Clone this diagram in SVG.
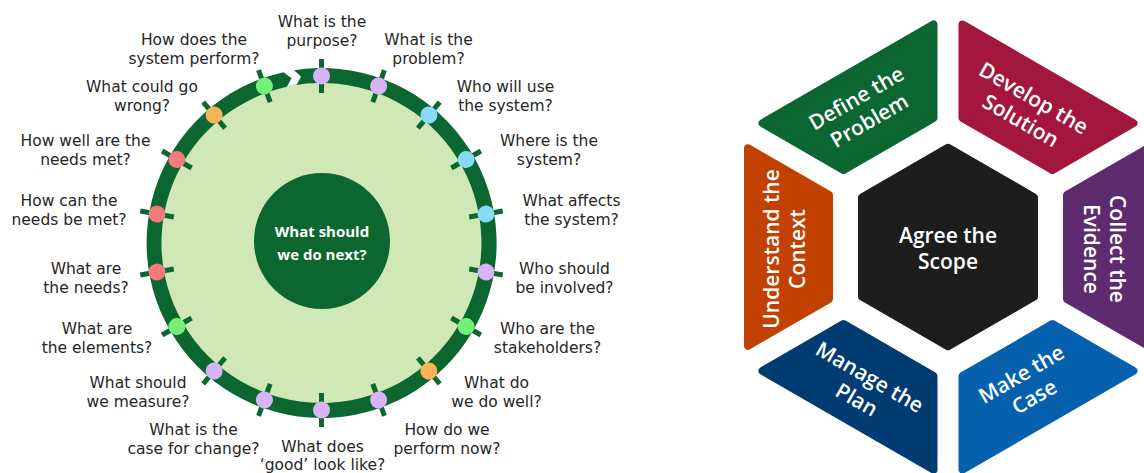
<svg xmlns="http://www.w3.org/2000/svg" xmlns:xlink="http://www.w3.org/1999/xlink" width="1144" height="473" viewBox="0 0 1144 473">
  <style>
    .q { font-family: "DejaVu Sans", Verdana, sans-serif; font-size: 15.5px; fill: #262626; text-anchor: middle; }
    .hub { font-family: "Open Sans", "Noto Sans", sans-serif; font-size: 15px; font-weight: 700; fill: #ffffff; text-anchor: middle; }
    .seg-t { font-family: "Open Sans", "Noto Sans", sans-serif; font-size: 21px; font-weight: 600; fill: #ffffff; text-anchor: middle; }
    .tick { stroke: #0b672f; stroke-width: 5; }
    .lav { fill: #d6b4f6; }
    .blu { fill: #86dbfb; }
    .grn { fill: #74f079; }
    .org { fill: #fbb455; }
    .red { fill: #f47b7b; }
    .seg { stroke-width: 8; stroke-linejoin: round; }
  </style>
  <defs>
    <!-- one ring segment of the hexagon, pointing left; rotated for the others -->
    <polygon id="seg" points="-200,-98.73 -119,-51.96 -119,51.96 -200,98.73"/>
    <!-- radial tick across the wheel ring, drawn at the top and rotated per question -->
    <line id="tk" class="tick" x1="0" y1="-150" x2="0" y2="-184"/>
  </defs>

  <rect width="1144" height="473" fill="#ffffff"/>

  <!-- ===== question wheel ===== -->
  <circle id="wheel-field" cx="321.5" cy="243" r="161" fill="#cfe8b5"/>

  <g id="connectors">
    <!-- clockwise ring with arrow tip meeting a notched tail at the top -->
    <path id="cycle-ring" fill="#0b672f"
      d="M294.12,70.15 A175,175 0 1 1 283.62,72.15 L291.55,78.20 L286.87,86.79 A160,160 0 1 0 296.47,84.97 L301.09,76.75 Z"/>
  </g>

  <g id="hub">
    <circle cx="322" cy="241" r="68" fill="#0b672f"/>
    <text class="hub" x="322" y="237">What should</text>
    <text class="hub" x="322" y="260">we do next?</text>
  </g>

  <g id="q-purpose">
    <g transform="translate(321.5,243) rotate(0)"><use xlink:href="#tk"/><circle class="lav" cy="-167" r="8.5"/></g>
    <text class="q" y="27"><tspan x="322">What is the</tspan><tspan x="322" dy="18.5">purpose?</tspan></text>
  </g>
  <g id="q-problem">
    <g transform="translate(321.5,243) rotate(20)"><use xlink:href="#tk"/><circle class="lav" cy="-167" r="8.5"/></g>
    <text class="q" y="45"><tspan x="428.5">What is the</tspan><tspan x="428.5" dy="18.5">problem?</tspan></text>
  </g>
  <g id="q-users">
    <g transform="translate(321.5,243) rotate(40)"><use xlink:href="#tk"/><circle class="blu" cy="-167" r="8.5"/></g>
    <text class="q" y="92"><tspan x="505.5">Who will use</tspan><tspan x="505.5" dy="18.5">the system?</tspan></text>
  </g>
  <g id="q-where">
    <g transform="translate(321.5,243) rotate(60)"><use xlink:href="#tk"/><circle class="blu" cy="-167" r="8.5"/></g>
    <text class="q" y="146"><tspan x="549">Where is the</tspan><tspan x="549" dy="18.5">system?</tspan></text>
  </g>
  <g id="q-affects">
    <g transform="translate(321.5,243) rotate(80)"><use xlink:href="#tk"/><circle class="blu" cy="-167" r="8.5"/></g>
    <text class="q" y="206"><tspan x="571.5">What affects</tspan><tspan x="571.5" dy="18.5">the system?</tspan></text>
  </g>
  <g id="q-involved">
    <g transform="translate(321.5,243) rotate(100)"><use xlink:href="#tk"/><circle class="lav" cy="-167" r="8.5"/></g>
    <text class="q" y="274"><tspan x="564.5">Who should</tspan><tspan x="564.5" dy="18.5">be involved?</tspan></text>
  </g>
  <g id="q-stakeholders">
    <g transform="translate(321.5,243) rotate(120)"><use xlink:href="#tk"/><circle class="grn" cy="-167" r="8.5"/></g>
    <text class="q" y="334"><tspan x="547.5">Who are the</tspan><tspan x="547.5" dy="18.5">stakeholders?</tspan></text>
  </g>
  <g id="q-do-well">
    <g transform="translate(321.5,243) rotate(140)"><use xlink:href="#tk"/><circle class="org" cy="-167" r="8.5"/></g>
    <text class="q" y="388"><tspan x="496.5">What do</tspan><tspan x="496.5" dy="18.5">we do well?</tspan></text>
  </g>
  <g id="q-perform-now">
    <g transform="translate(321.5,243) rotate(160)"><use xlink:href="#tk"/><circle class="lav" cy="-167" r="8.5"/></g>
    <text class="q" y="435"><tspan x="447">How do we</tspan><tspan x="447" dy="18.5">perform now?</tspan></text>
  </g>
  <g id="q-good">
    <g transform="translate(321.5,243) rotate(180)"><use xlink:href="#tk"/><circle class="lav" cy="-167" r="8.5"/></g>
    <text class="q" y="451.5"><tspan x="322.5">What does</tspan><tspan x="322.5" dy="18">‘good’ look like?</tspan></text>
  </g>
  <g id="q-case">
    <g transform="translate(321.5,243) rotate(200)"><use xlink:href="#tk"/><circle class="lav" cy="-167" r="8.5"/></g>
    <text class="q" y="435"><tspan x="193.5">What is the</tspan><tspan x="193.5" dy="18.5">case for change?</tspan></text>
  </g>
  <g id="q-measure">
    <g transform="translate(321.5,243) rotate(220)"><use xlink:href="#tk"/><circle class="lav" cy="-167" r="8.5"/></g>
    <text class="q" y="388"><tspan x="138">What should</tspan><tspan x="138" dy="18.5">we measure?</tspan></text>
  </g>
  <g id="q-elements">
    <g transform="translate(321.5,243) rotate(240)"><use xlink:href="#tk"/><circle class="grn" cy="-167" r="8.5"/></g>
    <text class="q" y="334"><tspan x="97">What are</tspan><tspan x="97" dy="18.5">the elements?</tspan></text>
  </g>
  <g id="q-needs">
    <g transform="translate(321.5,243) rotate(260)"><use xlink:href="#tk"/><circle class="red" cy="-167" r="8.5"/></g>
    <text class="q" y="274"><tspan x="86">What are</tspan><tspan x="86" dy="18.5">the needs?</tspan></text>
  </g>
  <g id="q-needs-met">
    <g transform="translate(321.5,243) rotate(280)"><use xlink:href="#tk"/><circle class="red" cy="-167" r="8.5"/></g>
    <text class="q" y="206"><tspan x="69">How can the</tspan><tspan x="69" dy="18.5">needs be met?</tspan></text>
  </g>
  <g id="q-how-well">
    <g transform="translate(321.5,243) rotate(300)"><use xlink:href="#tk"/><circle class="red" cy="-167" r="8.5"/></g>
    <text class="q" y="146"><tspan x="85.5">How well are the</tspan><tspan x="85.5" dy="18.5">needs met?</tspan></text>
  </g>
  <g id="q-go-wrong">
    <g transform="translate(321.5,243) rotate(320)"><use xlink:href="#tk"/><circle class="org" cy="-167" r="8.5"/></g>
    <text class="q" y="92"><tspan x="142">What could go</tspan><tspan x="142" dy="18.5">wrong?</tspan></text>
  </g>
  <g id="q-system-perform">
    <g transform="translate(321.5,243) rotate(340)"><use xlink:href="#tk"/><circle class="grn" cy="-167" r="8.5"/></g>
    <text class="q" y="45"><tspan x="194">How does the</tspan><tspan x="194" dy="18.5">system perform?</tspan></text>
  </g>

  <!-- ===== hexagon of stages ===== -->
  <g id="agree-scope">
    <polygon points="948,147.7 1034,197.35 1034,296.65 948,346.3 862,296.65 862,197.35" fill="#1d1d1d" stroke="#1d1d1d" stroke-width="8" stroke-linejoin="round"/>
    <g transform="translate(948,247)">
      <text class="seg-t" y="-4">Agree the</text>
      <text class="seg-t" y="22">Scope</text>
    </g>
  </g>

  <g id="understand-context">
    <use xlink:href="#seg" class="seg" transform="translate(948,247)" fill="#c24100" stroke="#c24100"/>
    <g transform="translate(783,249) rotate(-90)">
      <text class="seg-t" y="-4">Understand the</text>
      <text class="seg-t" y="22">Context</text>
    </g>
  </g>

  <g id="define-problem">
    <use xlink:href="#seg" class="seg" transform="translate(948,247) rotate(60)" fill="#0b6631" stroke="#0b6631"/>
    <g transform="translate(862,108) rotate(-30)">
      <text class="seg-t" y="-4">Define the</text>
      <text class="seg-t" y="22">Problem</text>
    </g>
  </g>

  <g id="develop-solution">
    <use xlink:href="#seg" class="seg" transform="translate(948,247) rotate(120)" fill="#a4173c" stroke="#a4173c"/>
    <g transform="translate(1028,108) rotate(30)">
      <text class="seg-t" y="-4">Develop the</text>
      <text class="seg-t" y="22">Solution</text>
    </g>
  </g>

  <g id="collect-evidence">
    <use xlink:href="#seg" class="seg" transform="translate(948,247) rotate(180)" fill="#5e2b6f" stroke="#5e2b6f"/>
    <g transform="translate(1105.5,249) rotate(90)">
      <text class="seg-t" y="-4">Collect the</text>
      <text class="seg-t" y="22">Evidence</text>
    </g>
  </g>

  <g id="make-case">
    <use xlink:href="#seg" class="seg" transform="translate(948,247) rotate(240)" fill="#0560ad" stroke="#0560ad"/>
    <g transform="translate(1027,384) rotate(-30)">
      <text class="seg-t" y="-4">Make the</text>
      <text class="seg-t" y="22">Case</text>
    </g>
  </g>

  <g id="manage-plan">
    <use xlink:href="#seg" class="seg" transform="translate(948,247) rotate(300)" fill="#003b71" stroke="#003b71"/>
    <g transform="translate(864,387) rotate(30)">
      <text class="seg-t" y="-4">Manage the</text>
      <text class="seg-t" y="22">Plan</text>
    </g>
  </g>
</svg>
